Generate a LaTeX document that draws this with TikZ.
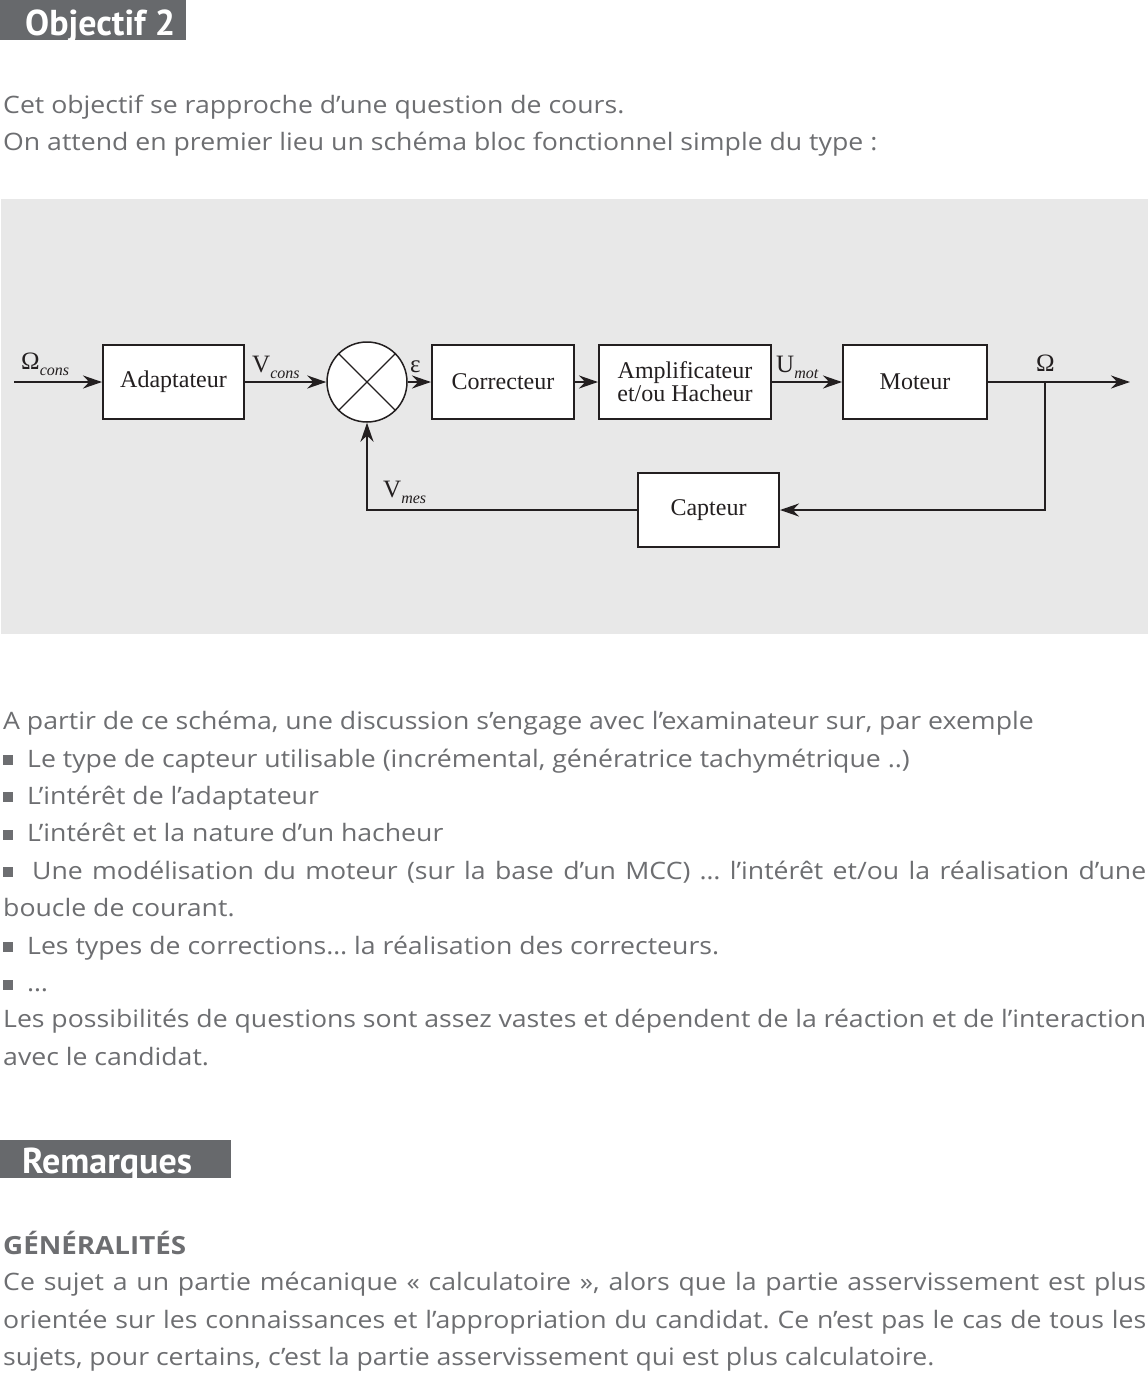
\documentclass[tikz,border=0pt]{standalone}
\usepackage{fontspec}
\setmainfont{Open Sans}[FakeStretch=1.11]
\newfontfamily\titrefont{PT Sans}
\newfontfamily\schemafont{Liberation Serif}
\usetikzlibrary{arrows.meta}

\definecolor{textgray}{HTML}{6D6E71}
\definecolor{titlegray}{HTML}{67696C}
\definecolor{schemagray}{HTML}{E8E8E8}
\definecolor{ink}{HTML}{231F20}

\newcommand{\bodysize}{\fontsize{24}{30}\selectfont}
\newcommand{\puce}{\textcolor{textgray}{\rule[2pt]{10pt}{10pt}}\hspace{14pt}}
\newcommand{\ind}[1]{\raisebox{-6pt}{\fontsize{16}{16}\selectfont\itshape #1}}

\begin{document}
\frenchspacing
\begin{tikzpicture}[x=1pt, y=-1pt, >={Stealth[length=19pt,width=13pt]},
    txt/.style={anchor=base west, inner sep=0pt, text=textgray, font=\bodysize},
    titre/.style={anchor=base west, inner sep=0pt, text=white, font=\titrefont\bfseries\fontsize{36}{36}\selectfont},
    bloc/.style={draw=ink, line width=2pt, fill=white, minimum width=141pt, minimum height=74pt,
      inner sep=0pt, align=center, text=ink, font=\schemafont\fontsize{24}{23}\selectfont},
    wire/.style={draw=ink, line width=2pt},
    sig/.style={anchor=base west, inner sep=0pt, text=ink, font=\schemafont\fontsize{25}{25}\selectfont}]
  \useasboundingbox[fill=white] (0,0) rectangle (1148,1373);

  % titre
  \fill[titlegray] (0,0) rectangle (186,40);
  \node[titre] (objectif) at (25,35) {Objectif 2};

  \node[txt] (cours) at (3,113) {Cet objectif se rapproche d’une question de cours.};
  \node[txt] (attend) at (3,150) {On attend en premier lieu un schéma bloc fonctionnel simple du type :};

  % schema bloc
  \fill[schemagray] (1,199) rectangle (1148,634);

  \node[bloc] (adapt) at (173.5,382) {Adaptateur};
  \node[circle, draw=ink, line width=1.5pt, fill=white, minimum size=80pt, inner sep=0pt] (sum) at (367,382) {};
  \draw[ink, line width=1.2pt] (sum.north west) -- (sum.south east) (sum.north east) -- (sum.south west);
  \node[bloc, minimum width=142pt] (correct) at (503,382) {Correcteur};
  \node[bloc, minimum width=172pt] (ampli) at (685,382) {Amplificateur\\et/ou Hacheur};
  \node[bloc, minimum width=144pt] (moteur) at (915,382) {Moteur};
  \node[bloc] (capteur) at (708.5,510) {Capteur};

  \coordinate (entree) at (14,382);
  \coordinate (branche) at (1045,382);
  \coordinate (sortie) at (1130,382);

  \draw[wire, ->] (entree) -- (adapt);
  \draw[wire, ->] (adapt) -- (sum);
  \draw[wire, ->] (sum) -- (correct);
  \draw[wire, ->] (correct) -- (ampli);
  \draw[wire, ->] (ampli) -- (moteur);
  \draw[wire, ->] (moteur) -- (sortie);
  \draw[wire, ->] (branche) |- (capteur);
  \draw[wire, ->] (capteur) -| (sum);

  \node[sig] (omegacons) at (21,369) {Ω\ind{cons}};
  \node[sig] (vcons) at (252,372) {V\ind{cons}};
  \node[sig] (eps) at (410,372) {ε};
  \node[sig] (umot) at (776,372) {U\ind{mot}};
  \node[sig] (omega) at (1036,371) {Ω};
  \node[sig] (vmes) at (383,497) {V\ind{mes}};

  % discussion
  \node[txt] (partir) at (3,729) {A partir de ce schéma, une discussion s’engage avec l’examinateur sur, par exemple};
  \node[txt] (type) at (3,767) {\puce Le type de capteur utilisable (incrémental, génératrice tachymétrique ..)};
  \node[txt] (interet) at (3,804) {\puce L’intérêt de l’adaptateur};
  \node[txt] (hacheur) at (3,841.5) {\puce L’intérêt et la nature d’un hacheur};
  \node[txt] (modele) at (3,879) {\makebox[1143pt][s]{\puce\hspace{5pt}Une modélisation du moteur (sur la base d’un MCC) … l’intérêt et/ou la réalisation d’une}};
  \node[txt] (boucle) at (3,916.5) {boucle de courant.};
  \node[txt] (correc) at (3,954) {\puce Les types de corrections… la réalisation des correcteurs.};
  \node[txt] (etc) at (3,991.5) {\puce …};
  \node[txt] (possib) at (3,1027) {\makebox[1143pt][s]{Les possibilités de questions sont assez vastes et dépendent de la réaction et de l’interaction}};
  \node[txt] (candidat) at (3,1065) {avec le candidat.};

  % remarques
  \fill[titlegray] (0,1140) rectangle (231,1178);
  \node[titre] (remarques) at (22,1173) {Remarques};

  \node[txt, font=\bfseries\fontsize{25}{30}\selectfont] (gene) at (3,1254) {GÉNÉRALITÉS};
  \node[txt] (sujet1) at (3,1290) {\makebox[1143pt][s]{Ce sujet a un partie mécanique « calculatoire », alors que la partie asservissement est plus}};
  \node[txt] (sujet2) at (3,1328) {\makebox[1143pt][s]{orientée sur les connaissances et l’appropriation du candidat. Ce n’est pas le cas de tous les}};
  \node[txt] (sujet3) at (3,1365) {sujets, pour certains, c’est la partie asservissement qui est plus calculatoire.};
\end{tikzpicture}
\end{document}
